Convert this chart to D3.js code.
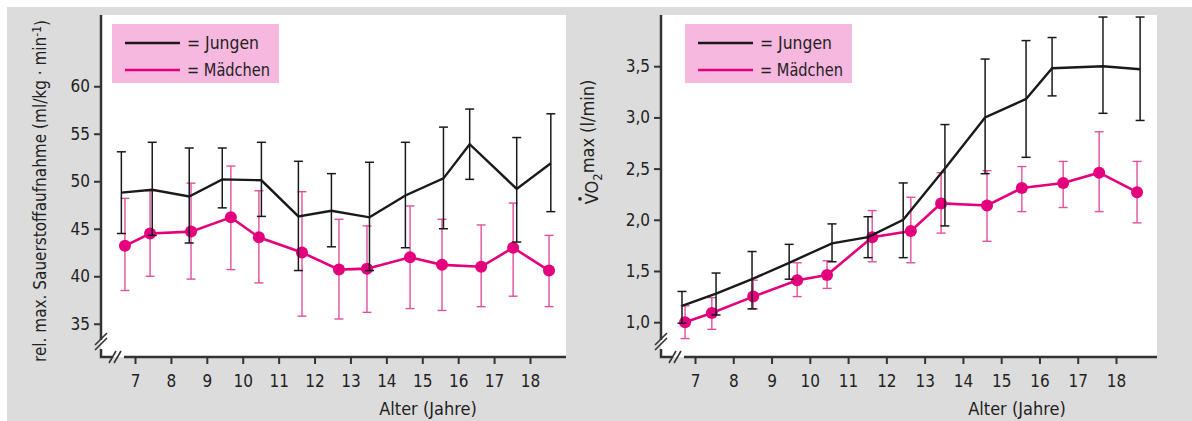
<!DOCTYPE html>
<html>

<head>
    <script src="https://cdnjs.cloudflare.com/ajax/libs/d3/7.8.5/d3.min.js"></script>
    <style>
        body {
            margin: 0;
            background: white;
        }

        text {
            font-family: 'Liberation Sans Narrow', 'DejaVu Sans Condensed', 'Arial Narrow', sans-serif;
            fill: #222;
        }

        .tick text {
            font-size: 17px;
        }
    </style>
</head>

<body>
    <script>
        // ages (x positions of the markers, as drawn)
        const xTicks = [7, 8, 9, 10, 11, 12, 13, 14, 15, 16, 17, 18]
        const leftYTicks = [35, 40, 45, 50, 55, 60]
        const rightYTicks = [1.0, 1.5, 2.0, 2.5, 3.0, 3.5]

        // left: rel. max. Sauerstoffaufnahme
        const leftAgeJ = [6.62, 7.48, 8.51, 9.43, 10.52, 11.55, 12.47, 13.53, 14.53, 15.59, 16.32, 17.63, 18.58]
        const leftJ = [48.8, 49.1, 48.4, 50.2, 50.1, 46.3, 46.9, 46.2, 48.5, 50.3, 53.9, 49.2, 51.9]
        const leftJhi = [53.1, 54.1, 53.5, 53.5, 54.1, 52.1, 50.8, 52.0, 54.1, 55.7, 57.6, 54.6, 57.1]
        const leftJlo = [44.5, 44.3, 43.5, 47.2, 46.3, 40.6, 43.1, 40.6, 43.0, 45.0, 50.2, 43.6, 46.8]

        const leftAgeM = [6.72, 7.42, 8.56, 9.67, 10.45, 11.65, 12.68, 13.46, 14.66, 15.55, 16.64, 17.53, 18.53]
        const leftM = [43.2, 44.5, 44.7, 46.2, 44.1, 42.5, 40.7, 40.8, 42.0, 41.2, 41.0, 43.0, 40.6]
        const leftMhi = [48.2, 49.0, 49.8, 51.6, 49.0, 48.9, 46.0, 45.3, 47.4, 46.0, 45.4, 47.7, 44.3]
        const leftMlo = [38.5, 40.0, 39.7, 40.7, 39.3, 35.8, 35.5, 36.2, 36.6, 36.4, 36.8, 37.9, 36.8]

        // right: VO2 max (l/min)
        const rightAgeJ = [6.66, 7.55, 8.49, 9.46, 10.58, 11.52, 12.44, 13.53, 14.58, 15.65, 16.33, 17.66, 18.63]
        const rightJ = [1.16, 1.28, 1.42, 1.58, 1.77, 1.83, 2.0, 2.5, 3.0, 3.18, 3.48, 3.50, 3.47]
        const rightJhi = [1.30, 1.48, 1.69, 1.76, 1.96, 2.03, 2.36, 2.93, 3.57, 3.75, 3.78, 3.98, 3.98]
        const rightJlo = [0.99, 1.07, 1.13, 1.42, 1.59, 1.63, 1.63, 1.94, 2.45, 2.61, 3.21, 3.04, 2.97]

        const rightAgeM = [6.74, 7.44, 8.52, 9.67, 10.45, 11.63, 12.64, 13.43, 14.63, 15.54, 16.62, 17.56, 18.55]
        const rightM = [1.0, 1.09, 1.25, 1.41, 1.46, 1.83, 1.89, 2.16, 2.14, 2.31, 2.36, 2.46, 2.27]
        const rightMhi = [1.16, 1.24, 1.41, 1.58, 1.60, 2.09, 2.22, 2.46, 2.48, 2.52, 2.57, 2.86, 2.57]
        const rightMlo = [0.84, 0.93, 1.13, 1.25, 1.33, 1.59, 1.58, 1.87, 1.79, 2.08, 2.12, 2.08, 1.97]

        const legendLabels = ['= Jungen', '= Mädchen']
        const legendWidths = [72, 83]

        const pink = '#e4007c'
        const pinkBar = '#e0509e'
        const black = '#1a1a1a'

        const w = 1192
        const h = 421

        const svg = d3.select('body')
            .append('svg')
            .attr('width', w)
            .attr('height', h)

        svg.append('rect')
            .attr('x', 7).attr('y', 7)
            .attr('width', w - 7).attr('height', h - 7)
            .attr('fill', '#dcdcdc')

        function zip(ages, vals, hi, lo) {
            return ages.map((a, i) => ({ age: a, v: vals[i], hi: hi[i], lo: lo[i] }))
        }

        function drawPanel(p) {
            const g = svg.append('g')
            const x = d3.scaleLinear().domain([7, 18]).range(p.xRange)
            const y = d3.scaleLinear().domain(p.yDomain).range([357, 15])
            const left = p.plotLeft, right = p.plotRight
            const bottom = y.range()[0], top = y.range()[1]

            g.append('rect')
                .attr('x', left).attr('y', top)
                .attr('width', right - left).attr('height', bottom - top)
                .attr('fill', 'white')

            // legend
            const lg = g.append('g').attr('transform', `translate(${left + p.legendOff},24)`)
            lg.append('rect')
                .attr('width', 167).attr('height', 59)
                .attr('fill', '#f6b8de')
            legendLabels.forEach((lab, i) => {
                lg.append('line')
                    .attr('x1', 13).attr('x2', 68)
                    .attr('y1', 19 + i * 27).attr('y2', 19 + i * 27)
                    .attr('stroke', i == 0 ? black : pink)
                    .attr('stroke-width', 2.5)
                lg.append('text')
                    .attr('x', 75).attr('y', 19 + i * 27)
                    .attr('dy', '0.36em')
                    .attr('textLength', legendWidths[i])
                    .attr('lengthAdjust', 'spacingAndGlyphs')
                    .style('font-size', '18px')
                    .text(lab)
            })

            // axes
            const yAxis = d3.axisLeft(y).tickValues(p.yTicks).tickSize(7).tickPadding(4)
                .tickFormat(p.fmt)
            const xAxis = d3.axisBottom(x).tickValues(xTicks).tickSize(7).tickPadding(11)
                .tickFormat(d3.format('d'))
            const ya = g.append('g').attr('transform', `translate(${left},0)`).call(yAxis)
            const xa = g.append('g').attr('transform', `translate(0,${bottom})`).call(xAxis)
            ya.select('.domain').remove()
            xa.select('.domain').remove()
            g.selectAll('.tick line').attr('stroke', '#333').attr('stroke-width', 2)
            g.selectAll('.tick text').attr('fill', '#222')

            // axis lines with breaks
            const ax = g.append('g').attr('stroke', '#333').attr('stroke-width', 2.5).attr('fill', 'none')
            ax.append('path').attr('d', `M${left},${top}V${bottom - 17}M${left},${bottom - 8}V${bottom}H${left + 11}M${left + 23},${bottom}H${right}`)
            const sl = g.append('g').attr('stroke', '#333').attr('stroke-width', 1.6)
            ;[0, 5].forEach(o => {
                sl.append('line')
                    .attr('x1', left - 6).attr('y1', bottom - 7 - o)
                    .attr('x2', left + 6).attr('y2', bottom - 19 - o)
                sl.append('line')
                    .attr('x1', left + 8 + o).attr('y1', bottom + 6)
                    .attr('x2', left + 15 + o).attr('y2', bottom - 6)
            })

            // series
            const girls = zip(p.ageM, p.m, p.mhi, p.mlo)
            const boys = zip(p.ageJ, p.j, p.jhi, p.jlo)
            const line = d3.line().x(d => x(d.age)).y(d => y(d.v))

            function bars(data, color, width) {
                const bg = g.append('g').attr('stroke', color).attr('stroke-width', width)
                bg.selectAll('.v').data(data).enter().append('line')
                    .attr('x1', d => x(d.age)).attr('x2', d => x(d.age))
                    .attr('y1', d => y(d.hi)).attr('y2', d => y(d.lo))
                bg.selectAll('.ct').data(data).enter().append('line')
                    .attr('x1', d => x(d.age) - 4.5).attr('x2', d => x(d.age) + 4.5)
                    .attr('y1', d => y(d.hi)).attr('y2', d => y(d.hi))
                bg.selectAll('.cb').data(data).enter().append('line')
                    .attr('x1', d => x(d.age) - 4.5).attr('x2', d => x(d.age) + 4.5)
                    .attr('y1', d => y(d.lo)).attr('y2', d => y(d.lo))
            }

            bars(girls, pinkBar, 1.4)
            g.append('path').datum(girls).attr('d', line)
                .attr('fill', 'none').attr('stroke', pink).attr('stroke-width', 2.6)
            g.selectAll('circle.m').data(girls).enter().append('circle')
                .attr('cx', d => x(d.age)).attr('cy', d => y(d.v))
                .attr('r', 6).attr('fill', pink)

            bars(boys, black, 1.5)
            g.append('path').datum(boys).attr('d', line)
                .attr('fill', 'none').attr('stroke', black).attr('stroke-width', 2.4)

            g.append('text')
                .attr('x', p.xLabelX).attr('y', 409)
                .attr('dy', '0.35em')
                .attr('text-anchor', 'middle')
                .style('font-size', '18px')
                .text('Alter (Jahre)')
        }

        drawPanel({
            xRange: [135, 530], yDomain: [31.5, 67.5], plotLeft: 101, plotRight: 566, legendOff: 11,
            yTicks: leftYTicks, fmt: d3.format('d'), xLabelX: 428,
            ageJ: leftAgeJ, j: leftJ, jhi: leftJhi, jlo: leftJlo,
            ageM: leftAgeM, m: leftM, mhi: leftMhi, mlo: leftMlo
        })

        drawPanel({
            xRange: [695, 1116], yDomain: [0.66, 4.0], plotLeft: 661, plotRight: 1157, legendOff: 24,
            yTicks: rightYTicks, fmt: d => d3.format('.1f')(d).replace('.', ','), xLabelX: 1017,
            ageJ: rightAgeJ, j: rightJ, jhi: rightJhi, jlo: rightJlo,
            ageM: rightAgeM, m: rightM, mhi: rightMhi, mlo: rightMlo
        })

        // y labels
        const yl = svg.append('text')
            .attr('transform', 'translate(40,191) rotate(-90)')
            .attr('text-anchor', 'middle')
            .attr('dy', '0.35em')
            .style('font-size', '17px')
        yl.append('tspan').text('rel. max. Sauerstoffaufnahme (ml/kg · min')
        yl.append('tspan').attr('dy', '-0.4em').style('font-size', '12px').text('-1')
        yl.append('tspan').attr('dy', '0.4em').text(')')

        const rg = svg.append('g').attr('transform', 'translate(592,142) rotate(-90)')
        const yr = rg.append('text')
            .attr('text-anchor', 'middle')
            .attr('dy', '0.35em')
            .style('font-size', '18px')
        yr.append('tspan').text('V')
        yr.append('tspan').text('O')
        yr.append('tspan').attr('dy', '0.3em').style('font-size', '13px').text('2')
        yr.append('tspan').attr('dy', '-0.45em').text('max (l/min)')
        const vx = yr.node().getStartPositionOfChar(0).x
        const vw = yr.node().getSubStringLength(0, 1)
        rg.append('circle')
            .attr('cx', vx + vw / 2).attr('cy', -12)
            .attr('r', 1.8).attr('fill', '#222')
    </script>
</body>

</html>
